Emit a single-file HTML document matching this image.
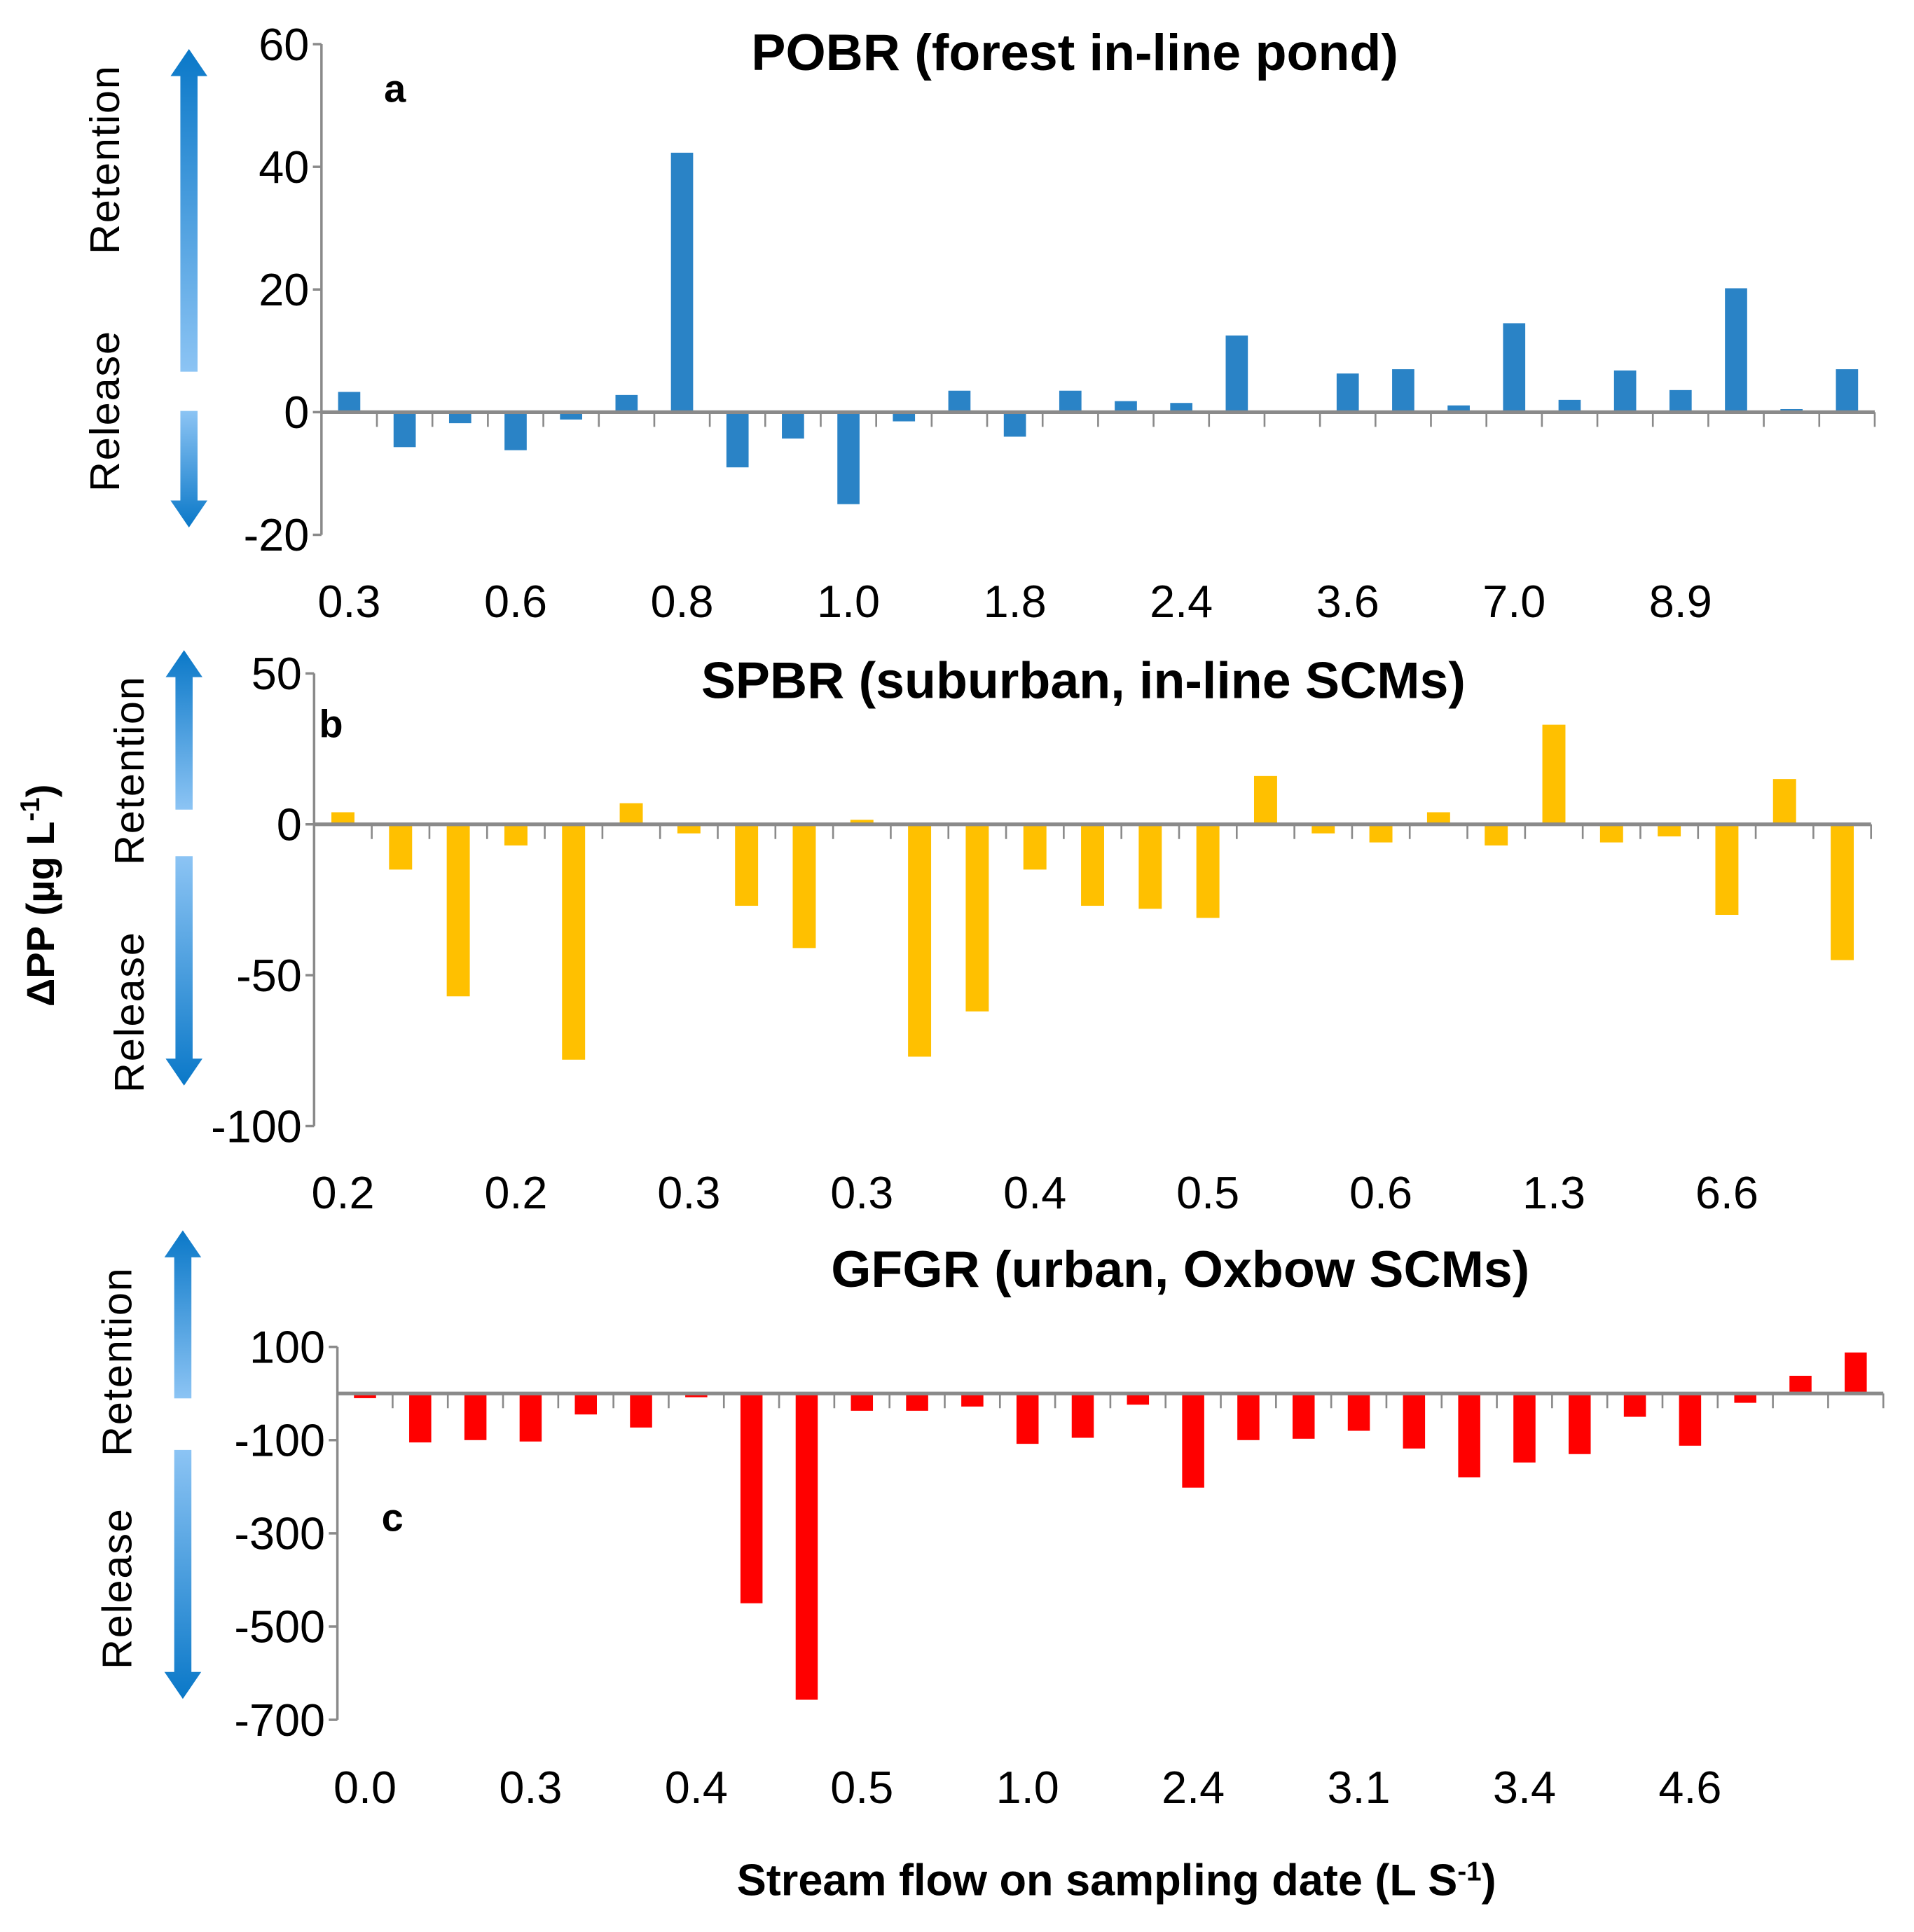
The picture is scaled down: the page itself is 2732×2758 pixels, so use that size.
<!DOCTYPE html>
<html><head><meta charset="utf-8"><style>
html,body{margin:0;padding:0;background:#fff;}
svg{display:block;}
text{font-family:"Liberation Sans",sans-serif;}
</style></head><body>
<svg id="chart" width="2732" height="2758" viewBox="0 0 1560 1575" preserveAspectRatio="none" xmlns="http://www.w3.org/2000/svg">
<defs>
<linearGradient id="gup" x1="0" y1="0" x2="0" y2="1"><stop offset="0" stop-color="#0a78c8"/><stop offset="1" stop-color="#8cc4f4"/></linearGradient>
<linearGradient id="gdn" x1="0" y1="0" x2="0" y2="1"><stop offset="0" stop-color="#8cc4f4"/><stop offset="1" stop-color="#0a78c8"/></linearGradient>
</defs>
<g id="root"></g>
</svg>
<script>
const catsA = ["0.3","","","0.6","","","0.8","","","1.0","","","1.8","","","2.4","","","3.6","","","7.0","","","8.9","","",""];
const valsA = [3.3,-5.7,-1.8,-6.2,-1.2,2.8,42.3,-9,-4.3,-15,-1.5,3.5,-4,3.5,1.8,1.5,12.5,0.2,6.3,7,1.1,14.5,2,6.8,3.6,20.2,0.5,7];
const ticksA = [60,40,20,0,-20];
const catsB = ["0.2","","","0.2","","","0.3","","","0.3","","","0.4","","","0.5","","","0.6","","","1.3","","","6.6","",""];
const valsB = [4,-15,-57,-7,-78,7,-3,-27,-41,1.5,-77,-62,-15,-27,-28,-31,16,-3,-6,4,-7,33,-6,-4,-30,15,-45];
const ticksB = [50,0,-50,-100];
const catsC = ["0.0","","","0.3","","","0.4","","","0.5","","","1.0","","","2.4","","","3.1","","","3.4","","","4.6","","",""];
const valsC = [-10,-105,-100,-103,-45,-73,-8,-450,-657,-37,-37,-28,-108,-95,-24,-202,-100,-97,-80,-118,-180,-148,-130,-50,-112,-20,38,88];
const ticksC = [100,-100,-300,-500,-700];

const NS="http://www.w3.org/2000/svg";
const root=document.getElementById('root');
function mk(tag,attrs,parent){const e=document.createElementNS(NS,tag);for(const k in attrs)e.setAttribute(k,attrs[k]);(parent||root).appendChild(e);return e;}

function panel(cfg){
  const g=mk('g',{});
  
  
  const y=v=>cfg.y0+(cfg.yRef-v)*cfg.pxPer;
  const n=cfg.cats.length, step=(cfg.x1-cfg.x0)/n;
  const xs=i=>cfg.x0+step*(i+0.5);
  const zy=y(0);
  const ya=mk('line',{x1:cfg.x0,x2:cfg.x0,y1:y(cfg.ticks[0]),y2:y(cfg.ticks[cfg.ticks.length-1]),stroke:'#8a8a8a','stroke-width':2},g);
  
  
  cfg.ticks.forEach(t=>{
    mk('line',{x1:cfg.x0-7,x2:cfg.x0,y1:y(t),y2:y(t),stroke:'#8a8a8a','stroke-width':2},g);
    const tl=mk('text',{x:cfg.x0-10,y:y(t)+13,'text-anchor':'end','font-size':37,fill:'#000'},g);
    tl.textContent=t;
    
    
  });
  cfg.vals.forEach((v,i)=>{
    const bw=step*0.4;
    const r=mk('rect',{x:xs(i)-bw/2,y:Math.min(y(v),zy),width:bw,height:Math.abs(y(v)-zy),fill:cfg.color},g);
    
    
  });
  const xa=mk('line',{x1:cfg.x0,x2:cfg.x1,y1:zy,y2:zy,stroke:'#8a8a8a','stroke-width':3},g);
  
  
  for(let i=1;i<=n;i++){mk('line',{x1:cfg.x0+step*i,x2:cfg.x0+step*i,y1:zy,y2:zy+12,stroke:'#8a8a8a','stroke-width':1.5},g);}
  cfg.cats.forEach((c,i)=>{
    if(!c)return;
    const tl=mk('text',{x:xs(i),y:cfg.labY,'text-anchor':'middle','font-size':37,fill:'#000'},g);
    tl.textContent=c;
    
    
  });
  const tt=mk('text',{x:cfg.titleX,y:cfg.titleY,'text-anchor':'middle','font-size':42,'font-weight':'bold',fill:'#000'},g);
  tt.textContent=cfg.title;
  
  
  const pl=mk('text',{x:cfg.letter[1],y:cfg.letter[2],'font-size':32,'font-weight':'bold',fill:'#000'},g);
  pl.textContent=cfg.letter[0];
  
  
  const a=cfg.arrows;
  const up=mk('path',{d:`M${a.x-7},${a.u2} L${a.x-7},${a.u1+22} L${a.x-15},${a.u1+22} L${a.x},${a.u1} L${a.x+15},${a.u1+22} L${a.x+7},${a.u1+22} L${a.x+7},${a.u2} Z`,fill:'url(#gup)'},g);
  
  
  const dn=mk('path',{d:`M${a.x-7},${a.d1} L${a.x-7},${a.d2-22} L${a.x-15},${a.d2-22} L${a.x},${a.d2} L${a.x+15},${a.d2-22} L${a.x+7},${a.d2-22} L${a.x+7},${a.d1} Z`,fill:'url(#gdn)'},g);
  
  
  [['Retention',a.tx,a.rt],['Release',a.tx,a.rl]].forEach(([s,tx,ty])=>{
    const t=mk('text',{x:tx,y:ty,'text-anchor':'middle','font-size':34,fill:'#000',transform:`rotate(-90 ${tx} ${ty})`,'letter-spacing':1},g);
    t.textContent=s;
    
    
  });
}

panel({name:'panel-a',cats:catsA,vals:valsA,ticks:ticksA,color:'#2a83c6',x0:262,x1:1528,y0:336,yRef:0,pxPer:5.0,labY:503,
  title:'POBR (forest in-line pond)',titleX:876,titleY:57,letter:['a',313,83],
  arrows:{x:154,u1:40,u2:303,d1:335,d2:430,tx:97,rt:130,rl:335}});
panel({name:'panel-b',cats:catsB,vals:valsB,ticks:ticksB,color:'#ffc000',x0:256,x1:1525,y0:672,yRef:0,pxPer:2.46,labY:985,
  title:'SPBR (suburban, in-line SCMs)',titleX:883,titleY:569,letter:['b',260,601],
  arrows:{x:150,u1:530,u2:660,d1:698,d2:885,tx:117,rt:628,rl:825}});
panel({name:'panel-c',cats:catsC,vals:valsC,ticks:ticksC,color:'#ff0000',x0:275,x1:1535,y0:1136,yRef:0,pxPer:0.38,labY:1470,
  title:'GFGR (urban, Oxbow SCMs)',titleX:962,titleY:1049,letter:['c',311,1248],
  arrows:{x:149,u1:1003,u2:1140,d1:1182,d2:1385,tx:107,rt:1110,rl:1295}});

const yl=mk('text',{x:44,y:730,'text-anchor':'middle','font-size':32,'font-weight':'bold',fill:'#000',transform:'rotate(-90 44 730)'});
yl.innerHTML='ΔPP  (µg L<tspan dy="-12" font-size="22">-1</tspan><tspan dy="12">)</tspan>';


const xl=mk('text',{x:910,y:1545,'text-anchor':'middle','font-size':36,'font-weight':'bold',fill:'#000'});
xl.innerHTML='Stream flow on sampling date (L S<tspan dy="-12" font-size="22">-1</tspan><tspan dy="12">)</tspan>';


</script>
</body></html>
